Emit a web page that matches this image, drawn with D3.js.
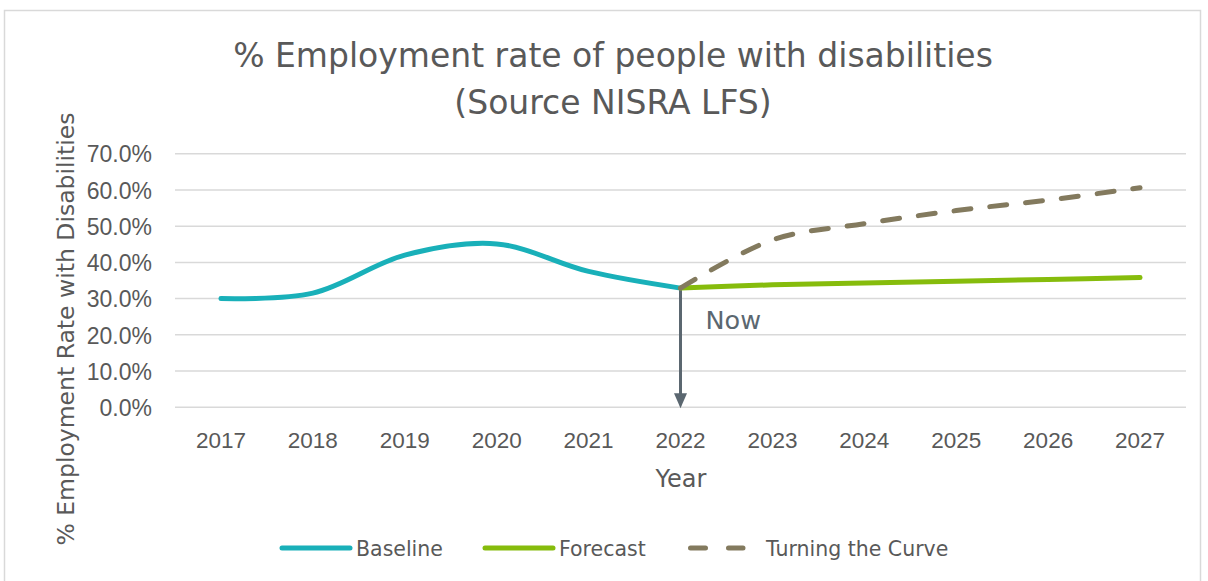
<!DOCTYPE html>
<html>
<head>
<meta charset="utf-8">
<script src="https://cdn.jsdelivr.net/npm/d3@7"></script>
<style>
  html, body { margin: 0; padding: 0; background: #fff; }
  svg { display: block; font-family: "DejaVu Sans", Verdana, sans-serif; }
</style>
</head>
<body>
<svg id="chart" width="1208" height="581"></svg>
<script>
// Years on the category axis
const years = ["2017", "2018", "2019", "2020", "2021", "2022", "2023", "2024", "2025", "2026", "2027"];
// Observed employment rate (share)
const baselineYears = ["2017", "2018", "2019", "2020", "2021", "2022"];
const baselineValues = [0.300, 0.315, 0.420, 0.451, 0.375, 0.329];
// Projection if nothing changes
const forecastYears = ["2022", "2023", "2024", "2025", "2026", "2027"];
const forecastValues = [0.329, 0.338, 0.343, 0.348, 0.353, 0.358];
// Target trajectory
const turningYears = ["2022", "2023", "2024", "2025", "2026", "2027"];
const turningValues = [0.329, 0.462, 0.507, 0.543, 0.572, 0.606];
// Value axis ticks
const yTicks = [0, 0.1, 0.2, 0.3, 0.4, 0.5, 0.6, 0.7];
const nowYear = "2022";

const colors = { baseline: "#19b0b9", forecast: "#86bc0c", turning: "#837a5e", text: "#595959", grid: "#d9d9d9", arrow: "#5b6770" };

const svg = d3.select("#chart");

// Outer chart frame
svg.append("rect").attr("x", 4.5).attr("y", 10.5).attr("width", 1196).attr("height", 600)
  .attr("fill", "#fff").attr("stroke", "#d9d9d9").attr("stroke-width", 1.5);

const x = d3.scaleBand().domain(years).range([175, 1186]).padding(0);
const y = d3.scaleLinear().domain([0, 0.7]).range([407.3, 153.7]);
const cx = d => x(d) + x.bandwidth() / 2;

// Gridlines
svg.append("g").selectAll("line").data(yTicks).join("line")
  .attr("x1", 175).attr("x2", 1186)
  .attr("y1", d => y(d)).attr("y2", d => y(d))
  .attr("stroke", colors.grid).attr("stroke-width", 1.5);

// Y axis tick labels
const yAxis = d3.axisLeft(y).tickValues(yTicks).tickFormat(d3.format(".1%")).tickSize(0).tickPadding(0);
const gy = svg.append("g").attr("transform", "translate(152,0)").call(yAxis);
gy.select(".domain").remove();
gy.selectAll("text").attr("font-size", 23).attr("fill", colors.text).attr("font-family", null).attr("dy", "0.36em");

// X axis tick labels
const xAxis = d3.axisBottom(x).tickSize(0).tickPadding(0);
const gx = svg.append("g").attr("transform", "translate(0,448)").call(xAxis);
gx.select(".domain").remove();
gx.selectAll("text").attr("font-size", 22.5).attr("fill", colors.text).attr("font-family", null).attr("dy", 0);

// Titles
const title = svg.append("text").attr("x", 613).attr("text-anchor", "middle").attr("fill", colors.text).attr("font-size", 33);
title.append("tspan").attr("x", 613).attr("y", 67).text("% Employment rate of people with disabilities");
title.append("tspan").attr("x", 613).attr("y", 114).text("(Source NISRA LFS)");

svg.append("text").attr("x", 681).attr("y", 487).attr("text-anchor", "middle")
  .attr("fill", colors.text).attr("font-size", 24).text("Year");

svg.append("text").attr("transform", "translate(74,329) rotate(-90)").attr("text-anchor", "middle")
  .attr("fill", colors.text).attr("font-size", 23.5).text("% Employment Rate with Disabilities");

// "Now" marker arrow from the latest observed point down to the axis
const nowVal = baselineValues[baselineYears.indexOf(nowYear)];
const ax = cx(nowYear), ay0 = y(nowVal), ay1 = y(0);
svg.append("line").attr("x1", ax).attr("x2", ax).attr("y1", ay0).attr("y2", ay1 - 12)
  .attr("stroke", colors.arrow).attr("stroke-width", 3);
svg.append("path").attr("d", `M${ax - 6.5},${ay1 - 14} L${ax + 6.5},${ay1 - 14} L${ax},${ay1 + 1} Z`).attr("fill", colors.arrow);
svg.append("text").attr("x", ax + 25).attr("y", 329).attr("fill", colors.arrow).attr("font-size", 25.5).text("Now");

// Series lines
const line = d3.line().curve(d3.curveCatmullRom.alpha(0.5));
function drawSeries(ys, vs, color, dash) {
  const pts = ys.map((yr, i) => [cx(yr), y(vs[i])]);
  svg.append("path").attr("d", line(pts)).attr("fill", "none")
    .attr("stroke", color).attr("stroke-width", 5).attr("stroke-linecap", "round").attr("stroke-linejoin", "round")
    .attr("stroke-dasharray", dash || null);
}
drawSeries(baselineYears, baselineValues, colors.baseline);
drawSeries(forecastYears, forecastValues, colors.forecast);
drawSeries(turningYears, turningValues, colors.turning, "17,19");

// Legend
const legendItems = [
  { name: "Baseline", color: colors.baseline, dash: null, x1: 282, x2: 350, tx: 356 },
  { name: "Forecast", color: colors.forecast, dash: null, x1: 485, x2: 553, tx: 559 },
  { name: "Turning the Curve", color: colors.turning, dash: "15,23", x1: 690.5, x2: 743, tx: 766 }
];
const lg = svg.append("g");
legendItems.forEach(it => {
  lg.append("line").attr("x1", it.x1).attr("x2", it.x2).attr("y1", 548).attr("y2", 548)
    .attr("stroke", it.color).attr("stroke-width", 5).attr("stroke-linecap", "round").attr("stroke-dasharray", it.dash);
  lg.append("text").attr("x", it.tx).attr("y", 556).attr("fill", colors.text).attr("font-size", 20.5).text(it.name);
});
</script>
</body>
</html>
